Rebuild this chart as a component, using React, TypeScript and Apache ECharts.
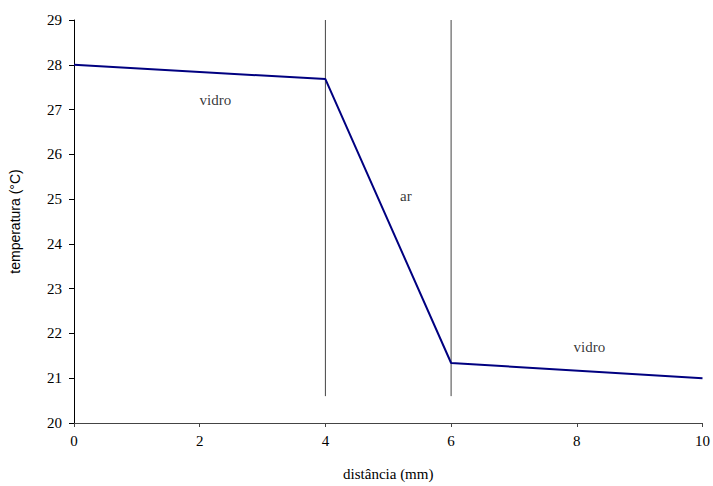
import React, { useEffect, useRef } from "react";
import * as echarts from "echarts";

const profileX = [0, 4, 6, 10];
const profileY = [28, 27.68, 21.34, 21.0];
const boundaryX = [4, 6];
const boundaryY = [20.6, 29];
const regionLabels = ["vidro", "ar", "vidro"];
const regionX = [2.25, 5.28, 8.2];
const regionY = [27.22, 25.08, 21.7];

export default function App() {
  const ref = useRef<HTMLDivElement>(null);
  useEffect(() => {
    const chart = echarts.init(ref.current!, undefined, { renderer: "svg" });
    const font = "Liberation Serif";
    const sans = "Liberation Sans";
    const series: any[] = [];
    boundaryX.forEach((bx) => {
      series.push({
        type: "line",
        data: boundaryY.map((y) => [bx, y]),
        symbol: "none",
        lineStyle: { color: "#444444", width: 1 },
        silent: true,
      });
    });
    series.push({
      type: "line",
      data: profileX.map((x, i) => [x, profileY[i]]),
      symbol: "none",
      lineStyle: { color: "#000080", width: 2 },
    });
    series.push({
      type: "scatter",
      symbolSize: 0,
      data: regionLabels.map((n, i) => ({ value: [regionX[i], regionY[i]], name: n })),
      label: {
        show: true,
        position: "inside",
        formatter: (p: any) => p.name,
        color: "#000",
        fontFamily: font,
        fontSize: 15,
      },
    });
    chart.setOption({
      animation: false,
      textStyle: { fontFamily: font },
      grid: { left: 73, right: 9, top: 20, bottom: 61 },
      xAxis: {
        type: "value",
        min: 0,
        max: 10,
        interval: 2,
        name: "distância (mm)",
        nameLocation: "middle",
        nameGap: 43,
        nameTextStyle: { fontFamily: font, fontSize: 15, color: "#000" },
        axisLine: { lineStyle: { color: "#444", width: 1 } },
        axisTick: { show: true, length: 4, lineStyle: { color: "#444" } },
        axisLabel: { fontFamily: font, fontSize: 15, color: "#000", margin: 10 },
        splitLine: { show: false },
      },
      yAxis: {
        type: "value",
        min: 20,
        max: 29,
        interval: 1,
        name: "temperatura (°C)",
        nameLocation: "middle",
        nameGap: 52,
        nameTextStyle: { fontFamily: sans, fontSize: 14, color: "#000" },
        axisLine: { show: true, lineStyle: { color: "#000", width: 1 } },
        axisTick: { show: true, length: 5, lineStyle: { color: "#000" } },
        axisLabel: { fontFamily: font, fontSize: 15, color: "#000", margin: 12 },
        splitLine: { show: false },
      },
      series,
    });
    return () => chart.dispose();
  }, []);
  return <div ref={ref} style={{ width: 713, height: 486, position: "absolute", left: 0, top: 0 }} />;
}
